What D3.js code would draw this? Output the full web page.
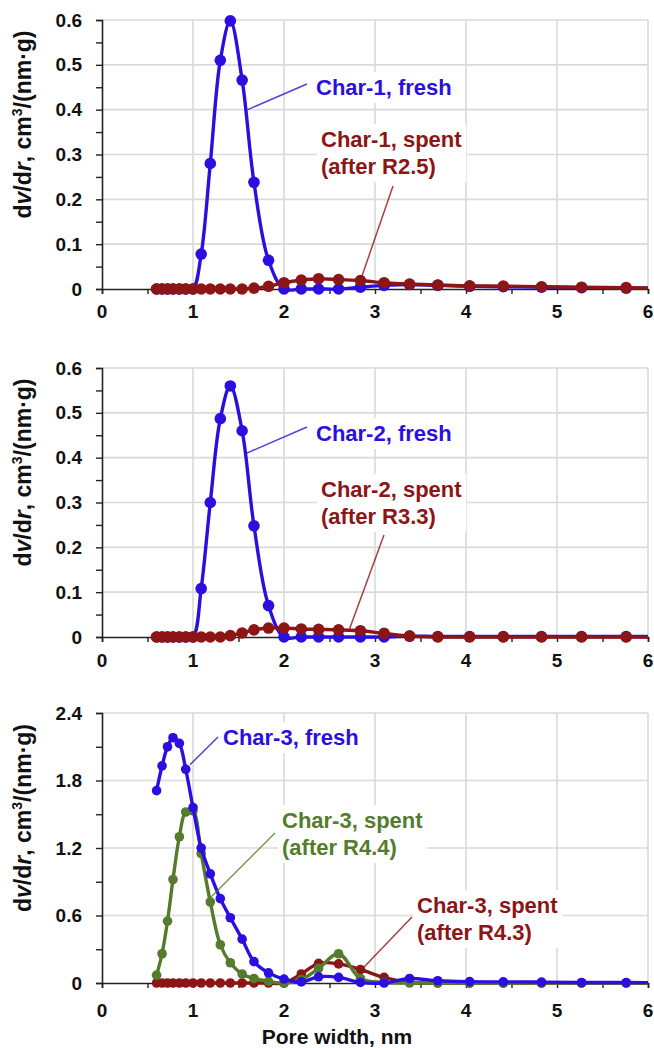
<!DOCTYPE html>
<html>
  <head>
    <title>Pore size distribution</title>
    <style>
      body { margin: 0; padding: 0; background: #fff; }
      svg { display: block; }
      text { font-family: "Liberation Sans", Arial, sans-serif; font-weight: bold; }
    </style>
    <script src="https://cdn.jsdelivr.net/npm/d3@7/dist/d3.min.js"></script>
  </head>
  <body>
    <svg width="654" height="1048"></svg>
    <script>
      // Pore width (nm) shared by every series
      const poreWidth = [0.60, 0.66, 0.72, 0.78, 0.85, 0.92, 1.00, 1.09, 1.19, 1.30, 1.41, 1.54, 1.67, 1.83,
                         2.00, 2.19, 2.38, 2.60, 2.84, 3.10, 3.38, 3.69, 4.04, 4.41, 4.83, 5.27, 5.76, 6.30];

      // dv/dr values
      const char1Fresh = [0, 0, 0, 0, 0, 0, 0, 0.078, 0.28, 0.51, 0.598, 0.466, 0.238, 0.064,
                          0, 0, 0, 0, 0.004, 0.008, 0.010, 0.008, 0.006, 0.005, 0.004, 0.003, 0.002, 0.002];
      const char1Spent = [0, 0, 0, 0, 0, 0, 0, 0, 0, 0, 0, 0, 0.002, 0.006,
                          0.014, 0.020, 0.023, 0.021, 0.019, 0.014, 0.011, 0.009, 0.007, 0.0065, 0.005, 0.004, 0.003, 0.002];
      const char2Fresh = [0, 0, 0, 0, 0, 0, 0, 0.108, 0.30, 0.487, 0.56, 0.46, 0.248, 0.07,
                          0, 0, 0, 0, 0, 0, 0.002, 0.001, 0.001, 0.001, 0.001, 0.001, 0.001, 0.001];
      const char2Spent = [0, 0, 0, 0, 0, 0, 0, 0, 0, 0, 0.003, 0.009, 0.016, 0.020,
                          0.020, 0.018, 0.017, 0.016, 0.014, 0.008, 0.002, 0, 0, 0, 0, 0, 0, 0];
      const char3Fresh = [1.71, 1.93, 2.10, 2.18, 2.13, 1.90, 1.56, 1.20, 0.97, 0.75, 0.58, 0.39, 0.19, 0.09,
                          0.035, 0.01, 0.055, 0.05, 0.005, 0, 0.04, 0.02, 0.012, 0.01, 0.008, 0.005, 0.004, 0.003];
      const char3SpentR44 = [0.07, 0.26, 0.55, 0.92, 1.30, 1.52, 1.53, 1.15, 0.72, 0.34, 0.18, 0.08, 0.04, 0.015,
                             0, 0.03, 0.13, 0.26, 0.04, 0.005, 0, 0, 0, 0, 0, 0, 0, 0];
      const char3SpentR43 = [0, 0, 0, 0, 0, 0, 0, 0, 0, 0, 0, 0, 0, 0,
                             0, 0.08, 0.175, 0.17, 0.12, 0.05, 0.005, 0, 0, 0, 0, 0, 0, 0];

      // Axis ticks
      const xTicks = [0, 1, 2, 3, 4, 5, 6];
      const yTicksSmall = [0, 0.1, 0.2, 0.3, 0.4, 0.5, 0.6];
      const yTicksLarge = [0, 0.6, 1.2, 1.8, 2.4];

      const BLUE = '#2a0fe0';
      const RED = '#8c1515';
      const GREEN = '#557b2c';

      const svg = d3.select('svg');
      const x = d3.scaleLinear().domain([0, 6]).range([102, 648]);

      // Panels: series are listed in drawing order
      const panels = [
        {
          top: 20, bottom: 289, yMax: 0.6, ticks: yTicksSmall, minor: 0.05, r: 5.8, tickY: 318,
          series: [{ v: char1Fresh, c: BLUE }, { v: char1Spent, c: RED }],
          labels: [
            { lines: ['Char-1, fresh'], c: BLUE, x: 316, y: 95, from: [307, 84], to: [1.60, 0.40] },
            { lines: ['Char-1, spent', '(after R2.5)'], c: RED, x: 321, y: 147, from: [393, 186], to: [2.84, 0.019] }
          ]
        },
        {
          top: 368, bottom: 637, yMax: 0.6, ticks: yTicksSmall, minor: 0.05, r: 5.8, tickY: 667,
          series: [{ v: char2Fresh, c: BLUE }, { v: char2Spent, c: RED }],
          labels: [
            { lines: ['Char-2, fresh'], c: BLUE, x: 316, y: 441, from: [307, 427], to: [1.59, 0.41] },
            { lines: ['Char-2, spent', '(after R3.3)'], c: RED, x: 321, y: 497, from: [384, 535], to: [2.72, 0.018] }
          ]
        },
        {
          top: 713, bottom: 983, yMax: 2.4, ticks: yTicksLarge, minor: 0.3, r: 4.8, tickY: 1017,
          series: [{ v: char3SpentR43, c: RED }, { v: char3SpentR44, c: GREEN }, { v: char3Fresh, c: BLUE }],
          labels: [
            { lines: ['Char-3, fresh'], c: BLUE, x: 223, y: 745, from: [218, 737], to: [0.967, 1.94] },
            { lines: ['Char-3, spent', '(after R4.4)'], c: GREEN, x: 282, y: 828, from: [275, 833], to: [1.187, 0.756] },
            { lines: ['Char-3, spent', '(after R4.3)'], c: RED, x: 417, y: 913, from: [412, 917], to: [2.87, 0.133] }
          ]
        }
      ];

      panels.forEach((p, pi) => {
        const y = d3.scaleLinear().domain([0, p.yMax]).range([p.bottom, p.top]);
        const g = svg.append('g');

        // grid
        g.selectAll('line.hgrid').data(p.ticks.filter(t => t > 0)).enter().append('line')
          .attr('x1', x(0)).attr('x2', x(6)).attr('y1', d => y(d)).attr('y2', d => y(d))
          .attr('stroke', '#dadada').attr('stroke-width', 1.6);
        g.selectAll('line.vgrid').data(xTicks.filter(t => t > 0)).enter().append('line')
          .attr('x1', d => x(d)).attr('x2', d => x(d)).attr('y1', p.top).attr('y2', p.bottom)
          .attr('stroke', '#dadada').attr('stroke-width', 1.6);

        // axes
        const yAxis = d3.axisLeft(y).tickValues(d3.range(0, p.yMax + 1e-9, p.minor))
          .tickSize(6).tickFormat(d => {
            const major = p.ticks.find(t => Math.abs(t - d) < 1e-6);
            return major === undefined ? '' : (major === 0 ? '0' : major.toFixed(1));
          });
        g.append('g').attr('transform', `translate(${x(0)},0)`).call(yAxis)
          .call(a => a.select('.domain').attr('stroke', '#222').attr('stroke-width', 1.6))
          .call(a => a.selectAll('line').attr('stroke', '#222').attr('stroke-width', 1.4))
          .call(a => a.selectAll('text').attr('font-size', 19).attr('fill', '#111').attr('x', -20));

        const xAxis = d3.axisBottom(x).tickValues(d3.range(0, 6.01, 0.5)).tickSize(5).tickFormat('');
        g.append('g').attr('transform', `translate(0,${p.bottom})`).call(xAxis)
          .call(a => a.select('.domain').attr('stroke', '#222').attr('stroke-width', 1.6))
          .call(a => a.selectAll('line').attr('stroke', '#222').attr('stroke-width', 1.4));

        g.selectAll('text.xt').data(xTicks).enter().append('text')
          .attr('x', d => x(d)).attr('y', p.tickY).attr('text-anchor', 'middle')
          .attr('font-size', 19).attr('fill', '#111').text(d => d);

        // y title
        const title = g.append('text')
          .attr('transform', `translate(31,${(p.top + p.bottom) / 2 - 30}) rotate(-90)`)
          .attr('text-anchor', 'middle').attr('font-size', 23).attr('fill', '#111');
        title.append('tspan').text('d');
        title.append('tspan').attr('font-style', 'italic').text('v');
        title.append('tspan').text('/d');
        title.append('tspan').attr('font-style', 'italic').text('r');
        title.append('tspan').text(', cm');
        title.append('tspan').attr('font-size', 14).attr('dy', -9).text('3');
        title.append('tspan').attr('dy', 9).text('/(nm·g)');

        // clip for data
        svg.append('clipPath').attr('id', 'clip' + pi).append('rect')
          .attr('x', x(0)).attr('y', p.top - 10).attr('width', x(6) - x(0)).attr('height', p.bottom - p.top + 20);
        const plot = g.append('g').attr('clip-path', `url(#clip${pi})`);

        const line = d3.line().x(d => x(d[0])).y(d => y(d[1])).curve(d3.curveCatmullRom.alpha(0.5));

        p.series.forEach(s => {
          const pts = poreWidth.map((w, i) => [w, s.v[i]]);
          plot.append('path').attr('d', line(pts)).attr('fill', 'none')
            .attr('stroke', s.c).attr('stroke-width', 3.4);
          plot.selectAll(null).data(pts).enter().append('circle')
            .attr('cx', d => x(d[0])).attr('cy', d => y(d[1])).attr('r', p.r).attr('fill', s.c);
        });

        // callouts
        p.labels.forEach(l => {
          g.append('line')
            .attr('x1', l.from[0]).attr('y1', l.from[1])
            .attr('x2', x(l.to[0])).attr('y2', y(l.to[1]))
            .attr('stroke', l.c).attr('stroke-width', 1.5).attr('opacity', 0.8);
          const lg = g.append('g');
          const bg = lg.append('rect').attr('fill', '#fff');
          const t = lg.append('text').attr('font-size', 22).attr('fill', l.c);
          l.lines.forEach((s, i) => {
            t.append('tspan').attr('x', l.x).attr('y', l.y + i * 27).text(s);
          });
          const bb = t.node().getBBox();
          bg.attr('x', bb.x - 4).attr('y', bb.y - 3).attr('width', bb.width + 8).attr('height', bb.height + 6);
        });
      });

      svg.append('text').attr('x', 337).attr('y', 1044).attr('text-anchor', 'middle')
        .attr('font-size', 21).attr('fill', '#111').text('Pore width, nm');
    </script>
  </body>
</html>
